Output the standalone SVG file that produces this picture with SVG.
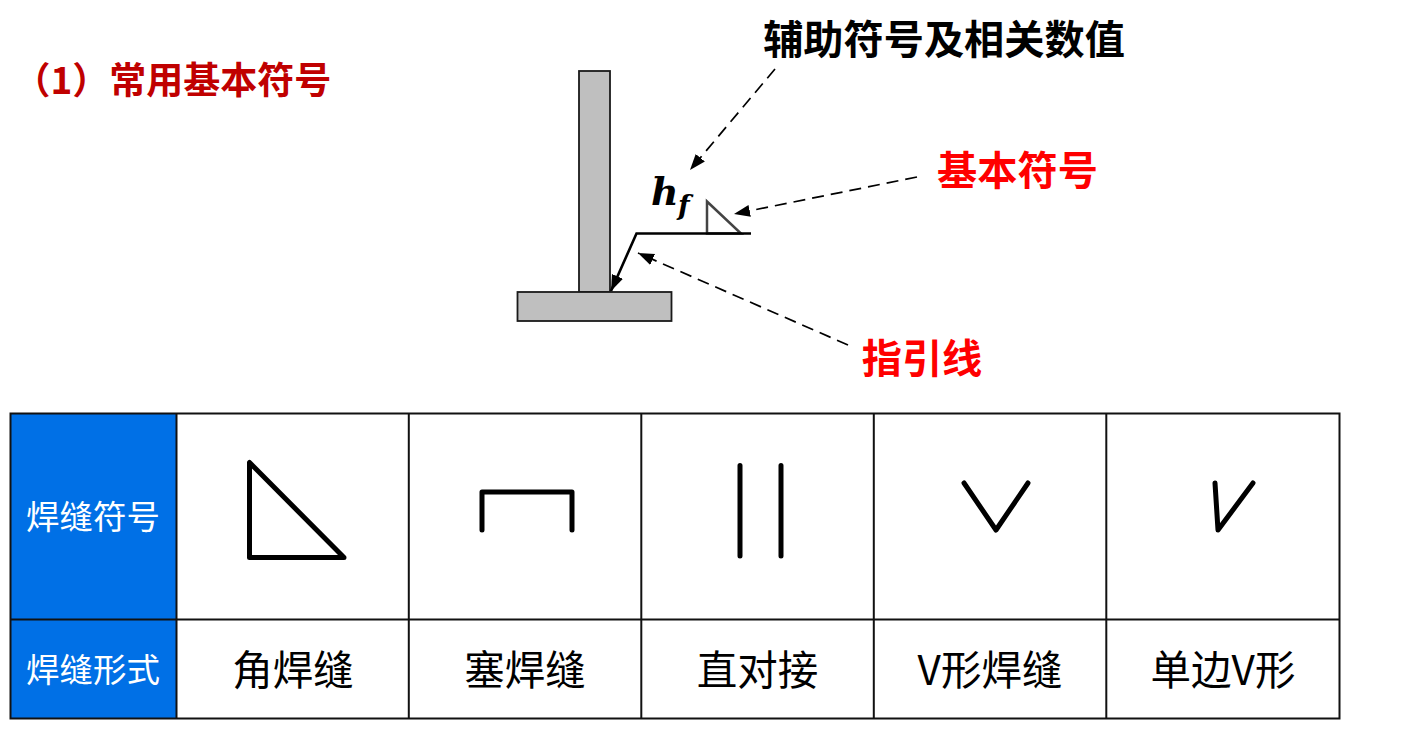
<svg xmlns="http://www.w3.org/2000/svg" width="1405" height="741" viewBox="0 0 1405 741">
<style>
text{font-family:"Noto Sans CJK SC","Liberation Sans",sans-serif}
.h{font-size:33.500px;fill:#fff;text-anchor:middle}
.c{font-size:40.500px;fill:#000;text-anchor:middle}
.b{font-weight:700}
.g{fill:#bfbfbf;stroke:#1a1a1a;stroke-width:1.8}
.d{fill:none;stroke:#000;stroke-width:1.7;stroke-dasharray:12 7}
.s{fill:none;stroke:#000;stroke-width:5;stroke-linecap:round;stroke-linejoin:round}
.t{stroke:#111;stroke-width:2;fill:none}
</style>
<defs>
<marker id="a" markerUnits="userSpaceOnUse" markerWidth="18" markerHeight="14" refX="16" refY="6" orient="auto"><path d="M0 0L16 6L0 12z" fill="#000"/></marker>
</defs>
<rect width="1405" height="741" fill="#fff"/>
<text x="13.500" y="94" font-size="37" class="b" fill="#c00000">（1）常用基本符号</text>
<g id="web"><rect class="g" x="579" y="71" width="31" height="221"/></g>
<g id="flange"><rect class="g" x="517.500" y="292" width="154" height="29"/></g>
<g id="hf"><text x="651" y="205" font-size="38" font-weight="700" font-style="italic" style="font-family:'DejaVu Serif',serif">h</text><text x="678" y="215" font-size="27" font-weight="700" font-style="italic" style="font-family:'DejaVu Serif',serif">f</text></g>
<g id="symbol"><path d="M707 201.500V233.500H741z" fill="#fff" stroke="#444" stroke-width="2.500"/></g>
<g id="label-aux"><text x="944" y="54" font-size="40.200" class="b" text-anchor="middle">辅助符号及相关数值</text></g>
<g id="label-basic"><text x="1017.500" y="185" font-size="40.200" class="b" text-anchor="middle" fill="#f00">基本符号</text></g>
<g id="label-leader"><text x="922" y="373" font-size="40.200" class="b" text-anchor="middle" fill="#f00">指引线</text></g>
<g id="connectors">
<path d="M751 233.500H636.500L611 291" fill="none" stroke="#000" stroke-width="2.600" marker-end="url(#a)"/>
<path class="d" d="M775 69L690 170" marker-end="url(#a)"/>
<path class="d" d="M917 177L734 214" marker-end="url(#a)"/>
<path class="d" d="M848 345L638 253" marker-end="url(#a)"/>
</g>
<g id="table">
<rect x="10.500" y="413.500" width="166" height="305" fill="#0070e6"/>
<path class="t" d="M10.500 413.500H1339.500V718.500H10.500zM176.500 413.500V718.500M408.800 413.500V718.500M641.300 413.500V718.500M873.800 413.500V718.500M1106.300 413.500V718.500M10.500 619.500H1339.500"/>
</g>
<g id="row-head1"><text class="h" x="93" y="529">焊缝符号</text></g>
<g id="row-head2"><text class="h" x="93" y="682">焊缝形式</text></g>
<g id="sym-fillet"><path class="s" d="M249.500 462.500V557.500H344z"/></g>
<g id="sym-plug"><path class="s" d="M482 530V492H572V530"/></g>
<g id="sym-butt"><path class="s" d="M740 465.500V556M781 465.500V556"/></g>
<g id="sym-v"><path class="s" d="M964 483L996 530L1028 483"/></g>
<g id="sym-bevel"><path class="s" d="M1215 483L1218 530L1253 483"/></g>
<g id="cell1"><text class="c" x="293" y="685">角焊缝</text></g>
<g id="cell2"><text class="c" x="525" y="685">塞焊缝</text></g>
<g id="cell3"><text class="c" x="757.500" y="685">直对接</text></g>
<g id="cell4"><text class="c" x="990" y="685">V形焊缝</text></g>
<g id="cell5"><text class="c" x="1223" y="685">单边V形</text></g>
</svg>
